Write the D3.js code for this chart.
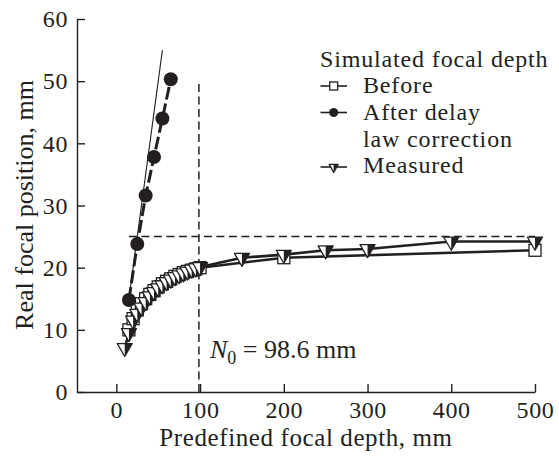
<!DOCTYPE html>
<html>
<head>
<meta charset="utf-8">
<script src="https://cdn.jsdelivr.net/npm/d3@7"></script>
<style>
  html, body { margin: 0; padding: 0; background: #fff; }
  svg text { font-family: "Liberation Serif", "Times New Roman", serif; fill: #231f20; }
</style>
</head>
<body>
<svg id="chart" width="559" height="461" font-family="Liberation Serif, Times New Roman, serif"></svg>
<script>
// ---- data ----
const xTicks = [0, 100, 200, 300, 400, 500];
const yTicks = [0, 10, 20, 30, 40, 50, 60];

const beforeX = [15, 20, 25, 30, 35, 40, 45, 50, 55, 60, 65, 70, 75, 80, 85, 90, 95, 100, 200, 500];
const beforeY = [10.0, 11.8, 13.2, 14.2, 15.0, 15.7, 16.3, 16.9, 17.4, 17.8, 18.2, 18.6, 18.9, 19.2, 19.4, 19.6, 19.8, 20.0, 21.6, 22.8];

const afterX = [15, 25, 35, 45, 55, 65];
const afterY = [14.8, 23.8, 31.6, 37.8, 44.0, 50.3];

const measuredX = [10, 15, 20, 25, 30, 35, 40, 45, 50, 55, 60, 65, 70, 75, 80, 85, 90, 95, 100, 150, 200, 250, 300, 400, 500];
const measuredY = [7.1, 9.5, 11.5, 12.6, 13.6, 14.5, 15.4, 16.1, 16.7, 17.2, 17.7, 18.1, 18.5, 18.8, 19.1, 19.4, 19.7, 19.9, 20.1, 21.6, 22.1, 22.8, 23.0, 24.2, 24.2];

const idealX = [15, 55];           // thin y = x reference line
const nearFieldN0 = 98.6;          // vertical dashed line
const nearFieldTopY = 50;
const plateauY = 25;               // horizontal dashed line
const plateauX = [15, 500];

const legendTitle = "Simulated focal depth";
const legendItems = [
  { key: "before", lines: ["Before"] },
  { key: "after", lines: ["After delay", "law correction"] },
  { key: "measured", lines: ["Measured"] }
];

// ---- drawing ----
const svg = d3.select("#chart");
const ink = "#231f20";
const TFS = 24;   // tick labels
const LFS = 24;   // legend

const x = d3.scaleLinear().domain([-47, 500]).range([77, 535]);
const y = d3.scaleLinear().domain([0, 60]).range([392, 19]);

const toPts = (xs, ys) => xs.map((v, i) => [v, ys[i]]);
const before = toPts(beforeX, beforeY);
const after = toPts(afterX, afterY);
const measured = toPts(measuredX, measuredY);

// axes
const gx = svg.append("g").attr("transform", `translate(0,${y(0)})`)
  .call(d3.axisBottom(x).tickValues(xTicks).tickSizeInner(-8).tickSizeOuter(0).tickPadding(9));
const gy = svg.append("g").attr("transform", `translate(${x.range()[0]},0)`)
  .call(d3.axisLeft(y).tickValues(yTicks).tickSizeInner(-8).tickSizeOuter(0).tickPadding(9));
[gx, gy].forEach(g => {
  g.attr("font-family", "Liberation Serif, Times New Roman, serif");
  g.selectAll("path.domain").attr("stroke", ink).attr("stroke-width", 1.4);
  g.selectAll(".tick line").attr("stroke", ink).attr("stroke-width", 1.4);
  g.selectAll(".tick text").attr("font-size", TFS).attr("fill", ink).attr("letter-spacing", 0.6);
});

// axis titles
svg.append("text").attr("x", (x.range()[0] + x.range()[1]) / 2).attr("y", 446)
  .attr("text-anchor", "middle").attr("font-size", 25).attr("letter-spacing", 0.6)
  .text("Predefined focal depth, mm");
svg.append("text").attr("transform", "translate(33,205) rotate(-90)")
  .attr("text-anchor", "middle").attr("font-size", 26).text("Real focal position, mm");

// reference dashed lines
svg.append("line")
  .attr("x1", x(nearFieldN0)).attr("x2", x(nearFieldN0))
  .attr("y1", y(0)).attr("y2", y(nearFieldTopY))
  .attr("stroke", ink).attr("stroke-width", 1.5).attr("stroke-dasharray", "8,4.5");
svg.append("line")
  .attr("x1", x(plateauX[0])).attr("x2", x(plateauX[1]))
  .attr("y1", y(plateauY)).attr("y2", y(plateauY))
  .attr("stroke", ink).attr("stroke-width", 1.5).attr("stroke-dasharray", "8,4.5");

// ideal y = x line
svg.append("line")
  .attr("x1", x(idealX[0])).attr("y1", y(idealX[0]))
  .attr("x2", x(idealX[1])).attr("y2", y(idealX[1]))
  .attr("stroke", ink).attr("stroke-width", 1.1);

// annotation N0
const ann = svg.append("text").attr("x", 210).attr("y", 358).attr("font-size", 26);
ann.append("tspan").attr("font-style", "italic").text("N");
ann.append("tspan").attr("font-size", 18).attr("dy", 6).text("0");
ann.append("tspan").attr("dy", -6).text(" = 98.6 mm");

const line = d3.line().x(d => x(d[0])).y(d => y(d[1]));

svg.append("path").datum(before).attr("d", line)
  .attr("fill", "none").attr("stroke", ink).attr("stroke-width", 2.6);
svg.append("path").datum(measured).attr("d", line)
  .attr("fill", "none").attr("stroke", ink).attr("stroke-width", 2.6);
svg.append("path").datum(after).attr("d", line)
  .attr("fill", "none").attr("stroke", ink).attr("stroke-width", 3)
  .attr("stroke-dasharray", "13,4");

// marker helpers
function drawSquare(g, cx, cy, s) {
  g.append("rect").attr("x", cx - s / 2).attr("y", cy - s / 2).attr("width", s).attr("height", s)
    .attr("fill", "#fff").attr("stroke", ink).attr("stroke-width", 1.3);
}
function drawTri(g, cx, cy, w, h) {
  const top = cy - h / 3, bot = cy + 2 * h / 3;
  g.append("path").attr("d", `M${cx - w / 2},${top}L${cx + w / 2},${top}L${cx},${bot}Z`)
    .attr("fill", "#fff").attr("stroke", ink).attr("stroke-width", 1.3).attr("stroke-linejoin", "round");
  g.append("path").attr("d", `M${cx},${top}L${cx + w / 2},${top}L${cx},${bot}Z`)
    .attr("fill", ink);
}
function drawCircle(g, cx, cy, r) {
  g.append("circle").attr("cx", cx).attr("cy", cy).attr("r", r).attr("fill", ink);
}

const gm = svg.append("g");
before.forEach(d => drawSquare(gm, x(d[0]), y(d[1]), 12));
measured.forEach(d => drawTri(gm, x(d[0]), y(d[1]), 15, 13));
after.forEach(d => drawCircle(gm, x(d[0]), y(d[1]), 7));

// legend
const lg = svg.append("g");
lg.append("text").attr("x", 320).attr("y", 66.5).attr("font-size", LFS)
  .attr("letter-spacing", 0.85).text(legendTitle);
const rowSymY = { before: 86, after: 112.5, measured: 167 };
const rowTextY = { before: 93.3, after: 120, measured: 173.4 };
legendItems.forEach(item => {
  const sy = rowSymY[item.key];
  lg.append("line").attr("x1", 320.5).attr("x2", 347).attr("y1", sy).attr("y2", sy)
    .attr("stroke", ink).attr("stroke-width", 1.6);
  if (item.key === "before") drawSquare(lg, 333.7, sy, 8);
  if (item.key === "after") drawCircle(lg, 333.7, sy, 4.5);
  if (item.key === "measured") drawTri(lg, 333.7, sy, 9, 8);
  item.lines.forEach((t, i) => {
    lg.append("text").attr("x", 363).attr("y", rowTextY[item.key] + i * 26.7)
      .attr("font-size", LFS).attr("letter-spacing", 0.85).text(t);
  });
});
</script>
</body>
</html>
